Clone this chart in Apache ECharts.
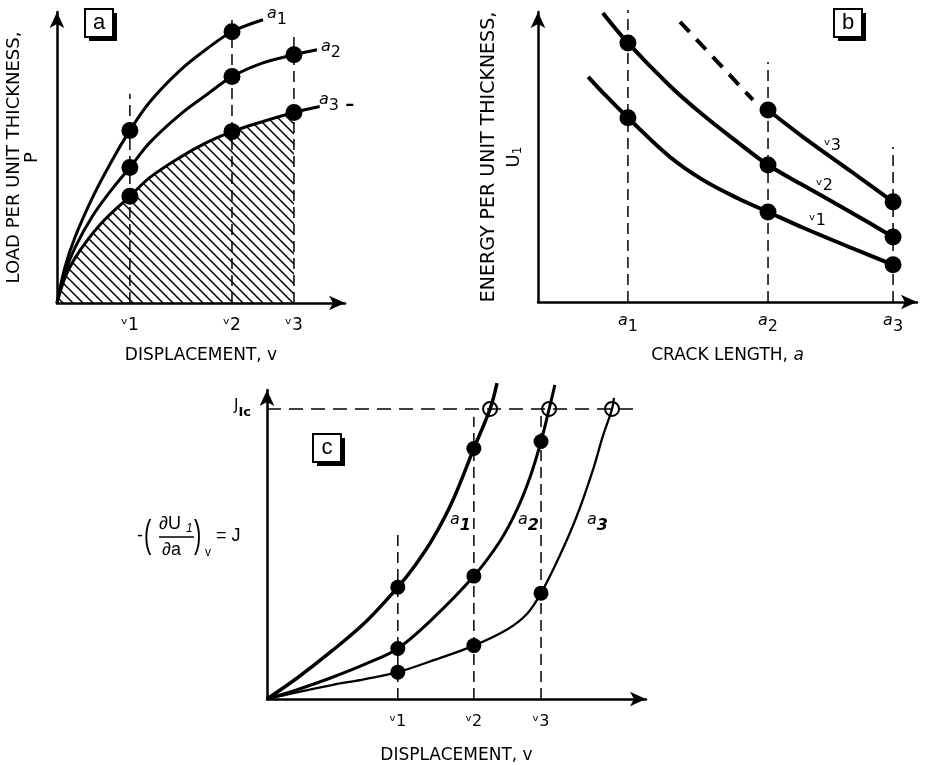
<!DOCTYPE html>
<html>
<head>
<meta charset="utf-8">
<script src="https://cdn.jsdelivr.net/npm/echarts@6/dist/echarts.min.js"></script>
<style>html,body{margin:0;background:#fff}#main{width:926px;height:765px}</style>
</head>
<body>
<div id="main"></div>
<script>
// panel a: load vs displacement, one curve per crack length
var vA=[2.47,5.93,8.03];
var loadA1=[[0,0],[0.27,1.2],[0.61,2.2],[1.19,3.5],[1.8,4.65],[2.47,5.77],[3.15,6.73],[4.17,7.78],[5.08,8.5],[5.93,9.07],[6.98,9.47]];
var loadA2=[[0,0],[0.27,1.0],[0.61,1.85],[1.2,2.9],[1.86,3.8],[2.47,4.53],[3.15,5.37],[4.17,6.3],[5.08,6.97],[5.93,7.57],[6.98,8.03],[8.03,8.3],[8.81,8.47]];
var loadA3=[[0,0],[0.27,0.85],[0.61,1.5],[1.05,2.13],[1.63,2.8],[2.47,3.57],[3.15,4.2],[4.17,4.87],[5.08,5.37],[5.93,5.73],[6.98,6.07],[8.03,6.37],[8.9,6.57]];
var vTopA=[7.0,9.47,8.93];

// panel b: energy vs crack length, one curve per displacement
var aB=[2.33,5.96,9.2];
var energyV1=[[1.3,7.58],[1.79,6.9],[2.33,6.2],[3.42,4.88],[4.27,4.11],[5.16,3.5],[5.96,3.03],[6.87,2.5],[8.16,1.8],[9.2,1.25]];
var energyV2=[[1.68,9.73],[2.33,8.72],[3.42,7.27],[4.27,6.3],[5.16,5.39],[5.96,4.61],[6.87,3.93],[8.16,2.98],[9.2,2.19]];
var energyV3=[[5.96,6.46],[6.87,5.55],[8.16,4.35],[9.2,3.37]];
var energyV3Dash=[[3.68,9.43],[5.57,6.8]];
var aTopB=[9.83,8.08,5.22];

// panel c: J vs displacement
var vC=[3.39,5.36,7.1];
var jIc=9.18;
var jIcEnd=9.66;
var jA1=[[0,0],[0.8,0.68],[1.68,1.52],[2.54,2.42],[3.39,3.54],[3.85,4.25],[4.3,5.08],[4.82,6.3],[5.36,7.93],[5.78,9.18],[5.96,10.0]];
var jA2=[[0,0],[0.8,0.3],[1.68,0.68],[2.54,1.1],[3.39,1.6],[4.3,2.55],[5.36,3.89],[6.04,5.0],[6.48,6.0],[6.81,7.0],[7.1,8.15],[7.31,9.18],[7.46,9.94]];
var jA3=[[0,0],[0.8,0.22],[1.68,0.44],[2.54,0.63],[3.39,0.85],[4.3,1.22],[5.36,1.69],[6.22,2.2],[6.74,2.7],[7.1,3.35],[7.59,4.55],[8.03,5.8],[8.45,7.27],[8.7,8.31],[8.94,9.18],[8.99,9.53]];
var vTopC=[5.2,8.93,9.09];

var subs=['1','2','3'];
var FONT='DejaVu Sans';

// hatch pattern for the area under a3
var hatch=document.createElement('canvas');
hatch.width=10;hatch.height=10;
var hc=hatch.getContext('2d');
hc.strokeStyle='#000';hc.lineWidth=1.5;
hc.beginPath();
hc.moveTo(-1,-1);hc.lineTo(11,11);
hc.moveTo(-1,9);hc.lineTo(1,11);
hc.moveTo(9,-1);hc.lineTo(11,1);
hc.stroke();

function nearest(arr,v){
  var bi=0;
  for(var i=1;i<arr.length;i++) if(Math.abs(arr[i]-v)<Math.abs(arr[bi]-v)) bi=i;
  return bi;
}
function onX(data,xs){return data.filter(function(p){return xs.indexOf(p[0])>=0;});}

function curve(g,data,w,extra){
  var s={type:'line',xAxisIndex:g,yAxisIndex:g,data:data,smooth:0.35,symbol:'none',clip:false,silent:true,z:3,
    lineStyle:{color:'#000',width:w}};
  for(var k in extra) s[k]=extra[k];
  return s;
}
function dashes(g,xs,tops){
  return xs.map(function(x,i){
    return {type:'line',xAxisIndex:g,yAxisIndex:g,data:[[x,0],[x,tops[i]]],symbol:'none',clip:false,silent:true,z:2,
      lineStyle:{color:'#000',width:1.5,type:[11,6]}};
  });
}
function dots(g,data,size){
  return {type:'scatter',xAxisIndex:g,yAxisIndex:g,data:data,symbolSize:size,clip:false,silent:true,z:5,
    itemStyle:{color:'#000',opacity:1}};
}

var richSub={
  a:{fontFamily:FONT,fontSize:16,lineHeight:16,fontStyle:'italic',color:'#000',verticalAlign:'top'},
  n:{fontFamily:FONT,fontSize:16,lineHeight:22,color:'#000',verticalAlign:'bottom'},
  b:{fontFamily:FONT,fontSize:16,lineHeight:22,fontStyle:'italic',fontWeight:'bold',color:'#000',verticalAlign:'bottom'},
  d:{fontFamily:FONT,fontSize:18,lineHeight:22,fontWeight:'bold',color:'#000',verticalAlign:'bottom'}
};
var nameStyle={fontFamily:FONT,fontSize:17,color:'#000'};
var axLine={lineStyle:{color:'#000',width:2.5},symbol:['none','arrow'],symbolSize:[11,16]};

function xAx(g,max,vals,fmt,rich,margin,name,gap,extraName,size){
  return {gridIndex:g,type:'value',min:0,max:max,axisLine:axLine,axisTick:{show:false},splitLine:{show:false},
    axisLabel:{customValues:vals,margin:margin,formatter:fmt,rich:rich,fontFamily:FONT,fontSize:size||16,color:'#000'},
    name:name,nameLocation:'middle',nameGap:gap,nameTextStyle:extraName||nameStyle};
}
function yAx(g,max,extra){
  var a={gridIndex:g,type:'value',min:0,max:max,axisLine:axLine,axisTick:{show:false},splitLine:{show:false},
    axisLabel:{show:false}};
  for(var k in extra) a[k]=extra[k];
  return a;
}

function box(x,y,t){
  return {type:'group',x:x,y:y,children:[
    {type:'rect',shape:{x:4,y:4,width:28,height:28},style:{fill:'#000'}},
    {type:'rect',shape:{x:0,y:0,width:28,height:28},style:{fill:'#fff',stroke:'#000',lineWidth:2}},
    {type:'text',x:14,y:14,style:{text:t,font:'22px Liberation Sans',fill:'#000',textAlign:'center',textVerticalAlign:'middle'}}
  ]};
}
function labA(x,y,sub,bold,tail){
  return {type:'text',x:x,y:y,style:{text:'{a|a}{'+(bold?'b':'n')+'|'+sub+'}'+(tail?'{d| –}':''),fill:'#000',rich:richSub}};
}
// small raised v followed by the index, e.g. v1
function labV(x,y,sub){
  return {type:'text',x:x,y:y,style:{text:'\u1D5B'+sub,font:'16px DejaVu Sans',fill:'#000'}};
}
function txt(x,y,t,size,extra,sy){
  return {type:'text',x:x,y:y,scaleY:sy||1,style:{text:t,font:(extra||'')+' '+size+'px Liberation Sans',fill:'#000',textVerticalAlign:'middle'}};
}

var fmtV=function(list){return function(v){return '\u1D5B'+subs[nearest(list,v)];};};

var series=[];
// panel a
series.push(curve(0,loadA3.filter(function(p){return p[0]<=vA[2];}),0,{areaStyle:{color:{image:hatch,repeat:'repeat'},opacity:1},z:1}));
series=series.concat(dashes(0,vA,vTopA));
series.push(curve(0,loadA1,3),curve(0,loadA2,3),curve(0,loadA3,3));
series.push(dots(0,onX(loadA1,vA).concat(onX(loadA2,vA),onX(loadA3,vA)),17));
// panel b
series=series.concat(dashes(1,aB,aTopB));
series.push(curve(1,energyV1,4),curve(1,energyV2,4),curve(1,energyV3,4));
series.push(curve(1,energyV3Dash,4,{lineStyle:{color:'#000',width:4,type:[14,10]}}));
series.push(dots(1,onX(energyV1,aB).concat(onX(energyV2,aB),onX(energyV3,aB)),17));
// panel c
series=series.concat(dashes(2,vC,vTopC));
series.push({type:'line',xAxisIndex:2,yAxisIndex:2,data:[[0,jIc],[jIcEnd,jIc]],symbol:'none',clip:false,silent:true,z:2,
  lineStyle:{color:'#000',width:1.5,type:[14,8]}});
series.push(curve(2,jA1,3.5),curve(2,jA2,3),curve(2,jA3,2.3));
series.push(dots(2,onX(jA1,vC).concat(onX(jA2,vC),onX(jA3,vC)),15));
series.push({type:'scatter',xAxisIndex:2,yAxisIndex:2,symbolSize:14,clip:false,silent:true,z:6,
  data:[jA1,jA2,jA3].map(function(d){return d.filter(function(p){return p[1]===jIc;})[0];}),
  itemStyle:{color:'rgba(0,0,0,0)',borderColor:'#000',borderWidth:2,opacity:1}});

var myChart=echarts.init(document.getElementById('main'));
var option={
  backgroundColor:'#fff',
  animation:false,
  grid:[
    {left:57,top:12,width:288,height:291},
    {left:538,top:12,width:379,height:290},
    {left:267,top:390,width:379,height:312}
  ],
  xAxis:[
    xAx(0,9.76,vA,fmtV(vA),null,14,'DISPLACEMENT, v',44,null,17),
    xAx(1,9.82,aB,function(v){return '{a|a}{n|'+subs[nearest(aB,v)]+'}';},richSub,11,'CRACK LENGTH, {i|a}',45,
      {fontFamily:FONT,fontSize:17,color:'#000',rich:{i:{fontFamily:FONT,fontSize:17,fontStyle:'italic',color:'#000'}}}),
    xAx(2,9.82,vC,fmtV(vC),null,15,'DISPLACEMENT, v',48,null,16)
  ],
  yAxis:[
    yAx(0,9.73,{name:'LOAD PER UNIT THICKNESS,\nP',nameLocation:'middle',nameRotate:90,nameGap:16,
      nameTextStyle:{fontFamily:FONT,fontSize:18,color:'#000',lineHeight:18}}),
    yAx(1,9.76,{name:'ENERGY PER UNIT THICKNESS,\n{u|U}{s|1}',nameLocation:'middle',nameRotate:90,nameGap:11,
      nameTextStyle:{fontFamily:FONT,fontSize:19,color:'#000',lineHeight:25,
        rich:{u:{fontFamily:FONT,fontSize:18,color:'#000'},s:{fontFamily:FONT,fontSize:12,color:'#000',padding:[6,0,0,0]}}}}),
    yAx(2,9.78,{axisLabel:{show:true,customValues:[jIc],margin:16,formatter:function(){return '{j|J}{s|Ic}';},
      rich:{j:{fontFamily:FONT,fontSize:15,lineHeight:15,color:'#000',verticalAlign:'top'},
            s:{fontFamily:FONT,fontSize:13,lineHeight:20,fontWeight:'bold',color:'#000',verticalAlign:'bottom'}}}})
  ],
  graphic:[
    box(85,9,'a'),box(834,9,'b'),box(313,434,'c'),
    labA(267,6,'1'),labA(321,39,'2'),labA(319,92,'3',false,true),
    labV(809,213,'1'),labV(816,178,'2'),labV(824,138,'3'),
    labA(450,512,'1',true),labA(518,512,'2',true),labA(587,512,'3',true),
    txt(137,536,'-',18),
    txt(144,536,'(',22,'',1.75),
    txt(159,524,'\u2202U',18),
    txt(186,529,'1',12,'italic'),
    {type:'line',shape:{x1:159,y1:537,x2:194,y2:537},style:{stroke:'#000',lineWidth:1.3}},
    txt(162,550,'\u2202a',18),
    txt(194,536,')',22,'',1.75),
    txt(205,553,'v',12),
    txt(216,536,'= J',18)
  ],
  series:series
};
myChart.setOption(option);
</script>
</body>
</html>
